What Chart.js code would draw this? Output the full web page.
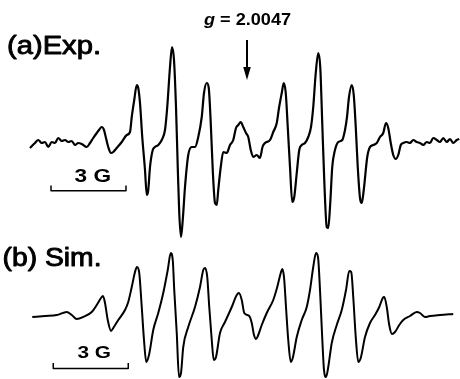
<!DOCTYPE html>
<html>
<head>
<meta charset="utf-8">
<script src="https://cdn.jsdelivr.net/npm/chart.js@4/dist/chart.umd.min.js"></script>
<style>
  html, body { margin: 0; padding: 0; background: #fff; }
  canvas { display: block; }
</style>
</head>
<body>
<canvas id="c" width="460" height="379"></canvas>
<script>
// Field offsets (G) relative to g = 2.0047, and signal (arb. units)
const fieldA = [-8.68,-8.48,-8.35,-8.21,-8.08,-7.95,-7.81,-7.68,-7.55,-7.41,-7.28,-7.15,-7.01,-6.88,-6.75,-6.61,-6.41,-6.28,-6.15,-6.01,-5.92,-5.81,-5.72,-5.65,-5.55,-5.44,-5.35,-5.21,-5.01,-4.81,-4.68,-4.61,-4.51,-4.41,-4.35,-4.28,-4.19,-4.08,-4.01,-3.95,-3.88,-3.77,-3.68,-3.55,-3.41,-3.28,-3.19,-3.08,-3.00,-2.92,-2.84,-2.77,-2.71,-2.64,-2.57,-2.48,-2.35,-2.21,-2.08,-1.95,-1.81,-1.72,-1.61,-1.53,-1.45,-1.37,-1.28,-1.21,-1.15,-1.05,-0.95,-0.81,-0.68,-0.55,-0.44,-0.35,-0.25,-0.15,-0.04,0.05,0.15,0.25,0.39,0.52,0.62,0.72,0.92,1.05,1.19,1.28,1.39,1.47,1.55,1.63,1.72,1.81,1.89,1.99,2.09,2.19,2.32,2.45,2.56,2.65,2.75,2.85,2.93,3.01,3.09,3.19,3.25,3.33,3.41,3.52,3.65,3.81,3.92,4.00,4.08,4.19,4.27,4.35,4.43,4.52,4.59,4.67,4.81,4.92,5.05,5.19,5.32,5.45,5.56,5.65,5.75,5.85,5.95,6.05,6.15,6.25,6.39,6.52,6.65,6.79,6.92,7.05,7.19,7.32,7.45,7.59,7.72,7.85,7.99,8.12,8.25,8.39,8.49];
const signalA = [-0.03,0.02,0.05,0.02,0.03,-0.02,0.03,0.02,0.07,0.04,0.05,0.03,0.04,0.00,0.02,0.01,-0.02,0.02,0.07,0.12,0.15,0.18,0.15,0.08,-0.02,-0.08,-0.07,-0.03,0.03,0.10,0.13,0.28,0.45,0.60,0.57,0.42,0.08,-0.25,-0.50,-0.45,-0.22,-0.05,-0.02,0.00,0.05,0.15,0.38,0.78,0.98,0.85,0.38,-0.22,-0.68,-0.92,-0.75,-0.42,-0.10,-0.02,-0.02,0.08,0.28,0.52,0.62,0.57,0.22,-0.25,-0.58,-0.60,-0.45,-0.22,-0.07,-0.08,0.00,0.05,0.17,0.20,0.23,0.18,0.12,0.08,-0.05,-0.12,-0.10,-0.13,-0.02,0.02,0.05,0.13,0.22,0.37,0.52,0.62,0.52,0.18,-0.22,-0.57,-0.52,-0.28,-0.05,0.00,0.02,0.08,0.18,0.38,0.72,0.92,0.78,0.22,-0.35,-0.82,-0.83,-0.58,-0.22,-0.05,0.03,0.05,0.15,0.28,0.48,0.60,0.50,0.18,-0.22,-0.53,-0.58,-0.45,-0.12,-0.02,0.00,0.02,0.08,0.12,0.22,0.17,0.02,-0.10,-0.14,-0.10,0.00,0.02,0.03,0.02,0.05,0.03,0.02,0.00,0.03,0.02,0.07,0.05,0.03,0.07,0.03,0.06,0.02,0.05,0.06];

const fieldB = [-8.59,-8.08,-7.61,-7.21,-7.01,-6.81,-6.55,-6.21,-6.01,-5.84,-5.76,-5.68,-5.57,-5.44,-5.35,-5.15,-4.88,-4.75,-4.61,-4.48,-4.40,-4.31,-4.21,-4.12,-4.03,-3.92,-3.75,-3.55,-3.35,-3.17,-3.05,-2.97,-2.91,-2.81,-2.72,-2.64,-2.55,-2.35,-2.08,-1.88,-1.75,-1.68,-1.59,-1.51,-1.41,-1.33,-1.24,-1.08,-0.88,-0.61,-0.41,-0.32,-0.21,-0.11,0.09,0.19,0.28,0.36,0.45,0.59,0.79,1.05,1.21,1.35,1.41,1.48,1.56,1.65,1.75,1.83,1.99,2.19,2.39,2.52,2.65,2.76,2.84,2.92,3.00,3.08,3.16,3.25,3.39,3.59,3.79,3.96,4.09,4.17,4.25,4.35,4.45,4.55,4.72,4.92,5.12,5.29,5.43,5.49,5.59,5.69,5.80,5.92,6.09,6.25,6.52,6.79,6.92,7.12,7.32,7.72,8.25];
const signalB = [-0.01,0.00,0.01,0.04,0.01,-0.03,-0.01,0.04,0.11,0.18,0.20,0.13,-0.04,-0.15,-0.12,-0.04,0.06,0.14,0.29,0.44,0.49,0.43,0.09,-0.24,-0.46,-0.39,-0.14,0.03,0.23,0.46,0.63,0.56,0.26,-0.17,-0.61,-0.57,-0.31,-0.11,0.09,0.29,0.46,0.48,0.39,0.09,-0.24,-0.44,-0.41,-0.17,-0.06,0.09,0.21,0.23,0.16,0.03,0.00,-0.07,-0.19,-0.23,-0.19,-0.09,0.03,0.16,0.29,0.43,0.47,0.39,0.09,-0.24,-0.46,-0.42,-0.21,-0.04,0.09,0.26,0.49,0.63,0.59,0.26,-0.17,-0.54,-0.61,-0.51,-0.27,-0.09,0.06,0.26,0.45,0.44,0.19,-0.21,-0.46,-0.42,-0.21,-0.07,0.01,0.09,0.18,0.19,0.09,-0.09,-0.18,-0.16,-0.09,-0.04,0.00,0.04,0.03,-0.01,0.00,0.01,0.02];

const labelA = '(a)Exp.';
const labelB = '(b) Sim.';
const gSymbol = 'g';
const gValue = ' = 2.0047';
const gCenterField = 0;      // field offset of the g-marker arrow
const scaleBarLength = 3;    // G
const scaleBarText = '3 G';
const scaleBarStartA = -7.84;
const scaleBarStartB = -7.75;

function pts(xs, ys) { return xs.map((x, i) => ({ x: x, y: ys[i] })); }

function stretchText(ctx, parts, x, baseline, targetWidth, strokeW) {
  let w = 0;
  parts.forEach(p => { ctx.font = p.font; w += ctx.measureText(p.text).width; });
  const s = targetWidth / w;
  ctx.save();
  ctx.translate(x, baseline);
  ctx.scale(s, 1);
  let cx = 0;
  parts.forEach(p => {
    ctx.font = p.font;
    ctx.fillText(p.text, cx, 0);
    if (strokeW) { ctx.lineWidth = strokeW; ctx.strokeText(p.text, cx, 0); }
    cx += ctx.measureText(p.text).width;
  });
  ctx.restore();
}

const annotations = {
  id: 'annotations',
  afterDraw(chart) {
    const ctx = chart.ctx;
    const xs = chart.scales.x;
    ctx.save();
    ctx.fillStyle = '#000';
    ctx.strokeStyle = '#000';
    ctx.textBaseline = 'alphabetic';
    ctx.lineJoin = 'round';
    const F = '"Liberation Sans", Arial, Helvetica, sans-serif';

    stretchText(ctx, [{ text: labelA, font: '26px ' + F }], 7, 54, 94, 0.9);
    stretchText(ctx, [{ text: labelB, font: '25px ' + F }], 2.5, 265.5, 99, 0.9);

    // g marker
    stretchText(ctx, [
      { text: gSymbol, font: 'italic bold 16px ' + F },
      { text: gValue, font: 'bold 16px ' + F }
    ], 204, 25, 87);
    const ax = xs.getPixelForValue(gCenterField);
    ctx.lineWidth = 2;
    ctx.beginPath();
    ctx.moveTo(ax, 40);
    ctx.lineTo(ax, 70);
    ctx.stroke();
    ctx.beginPath();
    ctx.moveTo(ax - 3.8, 67);
    ctx.lineTo(ax + 3.8, 67);
    ctx.lineTo(ax, 80);
    ctx.closePath();
    ctx.fill();

    // scale bars
    function bar(start, y, tickTop, textX, textBase, textW, fontPx) {
      const x0 = xs.getPixelForValue(start);
      const x1 = xs.getPixelForValue(start + scaleBarLength);
      ctx.lineWidth = 1.5;
      ctx.beginPath();
      ctx.moveTo(x0, tickTop);
      ctx.lineTo(x0, y);
      ctx.lineTo(x1, y);
      ctx.lineTo(x1, tickTop);
      ctx.stroke();
      stretchText(ctx, [{ text: scaleBarText, font: 'bold ' + fontPx + 'px ' + F }], textX, textBase, textW);
    }
    bar(scaleBarStartA, 190.8, 185.5, 74.5, 181.5, 36.5, 18);
    bar(scaleBarStartB, 368.5, 363, 77.5, 358.3, 33.5, 17);
    ctx.restore();
  }
};

new Chart(document.getElementById('c'), {
  type: 'line',
  data: {
    datasets: [
      { label: 'Exp.', data: pts(fieldA, signalA), yAxisID: 'yA', borderWidth: 2.2 },
      { label: 'Sim.', data: pts(fieldB, signalB), yAxisID: 'yB', borderWidth: 2 }
    ]
  },
  options: {
    responsive: false,
    animation: false,
    devicePixelRatio: 1,
    layout: { padding: 0 },
    elements: {
      point: { radius: 0 },
      line: { borderColor: '#000', cubicInterpolationMode: 'monotone', fill: false }
    },
    plugins: { legend: { display: false }, tooltip: { enabled: false } },
    scales: {
      x: { type: 'linear', min: -9.88, max: 8.52, display: false },
      yA: { type: 'linear', min: -2.34, max: 1.45, display: false },
      yB: { type: 'linear', min: -0.63, max: 3.16, display: false }
    }
  },
  plugins: [annotations]
});
</script>
</body>
</html>
